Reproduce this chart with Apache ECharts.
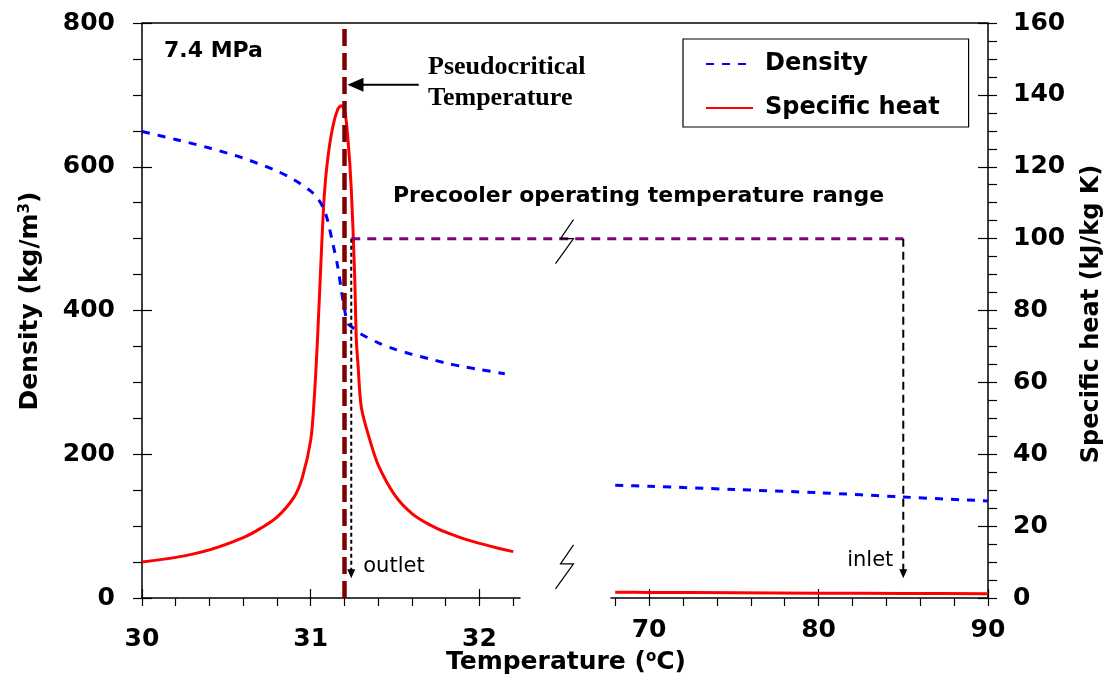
<!DOCTYPE html>
<html><head><meta charset="utf-8">
<script src="https://cdn.jsdelivr.net/npm/echarts@6/dist/echarts.min.js"></script>
<style>html,body{margin:0;padding:0;background:#fff}#c{width:1107px;height:683px}</style>
</head><body><div id="c"></div>
<script>
// ---------------- data ----------------
const densityLeftT = [30.00,30.20,30.40,30.60,30.80,30.90,31.00,31.05,31.08,31.10,31.13,31.16,31.18,31.20,31.22,31.25,31.27,31.30,31.40,31.50,31.60,31.70,31.80,31.90,32.00,32.15];
const densityLeftV = [649,638,626,612,594,582,566,553,540,525,494,461,430,402,382,376,372,367,355,346,339,333,327,322,318,312];
const cpLeftT = [30.00,30.20,30.40,30.60,30.70,30.80,30.90,30.95,31.00,31.02,31.04,31.06,31.08,31.10,31.13,31.16,31.18,31.20,31.22,31.24,31.26,31.27,31.28,31.30,31.35,31.40,31.50,31.60,31.70,31.80,31.90,32.00,32.10,32.20];
const cpLeftV = [10.0,11.3,13.4,16.8,19.3,22.5,28.0,33.5,44,55,72,93,112,122,131,136,137,136,128,114,90,72,65,53,44,37,28.5,23.5,20.5,18.3,16.6,15.2,14.0,12.9];
const densityRightT = [68,70,75,80,85,90];
const densityRightV = [157,155.5,151,146.5,140.5,135];
const cpRightT = [68,70,75,80,85,90];
const cpRightV = [1.6,1.55,1.45,1.35,1.25,1.2];

const leftXLabels = [30,31,32];
const leftXTicks = [30,30.2,30.4,30.6,30.8,31,31.2,31.4,31.6,31.8,32,32.2];
const rightXLabels = [70,80,90];
const rightXTicks = [68,70,72,74,76,78,80,82,84,86,88,90];
const densityLabels = [0,200,400,600,800];
const densityTicks = [0,50,100,150,200,250,300,350,400,450,500,550,600,650,700,750,800];
const cpLabels = [0,20,40,60,80,100,120,140,160];
const cpTicks = [0,5,10,15,20,25,30,35,40,45,50,55,60,65,70,75,80,85,90,95,100,105,110,115,120,125,130,135,140,145,150,155,160];

const pseudocriticalT = 31.2;
const pseudoArrowTailT = 31.64;
const pseudoArrowRho = 714;
const outletT = 31.24;
const inletT = 85;
const precoolerCp = 100;
const arrowTipCp = 5.5;
const breakLowCp = 9.5;
const leftRange = [30, 32.24];
const rightRange = [67.75, 90];

// ---------------- chart ----------------
const F = '"DejaVu Sans", sans-serif';
const chart = echarts.init(document.getElementById('c'), null, {renderer: 'canvas'});

function xMain(grid, range, ticks, labels, margin) {
  return {type:'value', gridIndex:grid, min:range[0], max:range[1], position:'bottom',
    axisLine:{show:true, onZero:false, lineStyle:{color:'#000', width:1.5}},
    axisTick:{show:true, customValues:ticks, inside:false, length:8, lineStyle:{color:'#000', width:1.2}},
    axisLabel:{show:true, customValues:labels, margin:margin, color:'#000', fontFamily:F, fontWeight:'bold', fontSize:25, formatter: v => String(v)},
    splitLine:{show:false}};
}
function xOver(grid, range, labels) {
  return {type:'value', gridIndex:grid, min:range[0], max:range[1], position:'bottom',
    axisLine:{show:false, onZero:false},
    axisTick:{show:true, customValues:labels, inside:true, length:9, lineStyle:{color:'#000', width:1.2}},
    axisLabel:{show:false}, splitLine:{show:false}};
}
function yMain(grid, pos, max, ticks, labels, margin) {
  return {type:'value', gridIndex:grid, min:0, max:max, position:pos,
    axisLine:{show:true, onZero:false, lineStyle:{color:'#000', width:1.5}},
    axisTick:{show:true, customValues:ticks, inside:false, length:9, lineStyle:{color:'#000', width:1.2}},
    axisLabel:{show:true, customValues:labels, margin:margin, color:'#000', fontFamily:F, fontWeight:'bold', fontSize:25, formatter: v => String(v)},
    splitLine:{show:false}};
}
function yOver(grid, pos, max, labels) {
  return {type:'value', gridIndex:grid, min:0, max:max, position:pos,
    axisLine:{show:false, onZero:false},
    axisTick:{show:true, customValues:labels, inside:true, length:10, lineStyle:{color:'#000', width:1.2}},
    axisLabel:{show:false}, splitLine:{show:false}};
}
function yHidden(grid, pos, max) {
  return {type:'value', gridIndex:grid, min:0, max:max, position:pos, show:false, splitLine:{show:false}};
}
const zip = (a, b) => a.map((v, i) => [v, b[i]]);

const option = {
  animation:false,
  backgroundColor:'#fff',
  grid:[
    {left:142, top:23, width:378, height:575},
    {left:611, top:23, width:377, height:575}
  ],
  xAxis:[
    xMain(0, leftRange, leftXTicks, leftXLabels, 29),
    xOver(0, leftRange, leftXLabels),
    xMain(1, rightRange, rightXTicks, rightXLabels, 20),
    xOver(1, rightRange, rightXLabels)
  ],
  yAxis:[
    yMain(0, 'left', 800, densityTicks, densityLabels, 27),
    yHidden(0, 'right', 160),
    yOver(0, 'left', 800, densityLabels),
    yHidden(1, 'left', 800),
    yMain(1, 'right', 160, cpTicks, cpLabels, 25),
    yOver(1, 'right', 160, cpLabels)
  ],
  legend:{
    left:683, top:39, orient:'vertical',
    padding:[13, 29, 7, 22], itemGap:20, itemWidth:47, itemHeight:20,
    borderColor:'#000', borderWidth:1.2, backgroundColor:'#fff',
    itemStyle:{opacity:0, borderWidth:0},
    textStyle:{color:'#000', fontFamily:F, fontWeight:'bold', fontSize:24, padding:[0,0,0,7]},
    data:['Density', 'Specific heat']
  },
  series:[
    {name:'Density', type:'line', xAxisIndex:0, yAxisIndex:0, data:zip(densityLeftT, densityLeftV),
     symbol:'none', smooth:0.3, lineStyle:{color:'#0000ff', width:3, type:[8,8]}, itemStyle:{color:'#0000ff'},
     markLine:{silent:true, symbol:'none', label:{show:false},
       lineStyle:{color:'#7f0000', width:4.5, type:[17,7]}, data:[{xAxis:pseudocriticalT}]}},
    {name:'Specific heat', type:'line', xAxisIndex:0, yAxisIndex:1, data:zip(cpLeftT, cpLeftV),
     symbol:'none', smooth:0.3, lineStyle:{color:'#ff0000', width:3}, itemStyle:{color:'#ff0000'}, z:1},
    {name:'Density', type:'line', xAxisIndex:2, yAxisIndex:3, data:zip(densityRightT, densityRightV),
     symbol:'none', smooth:0.3, lineStyle:{color:'#0000ff', width:3, type:[8,8]}, itemStyle:{color:'#0000ff'}},
    {name:'Specific heat', type:'line', xAxisIndex:2, yAxisIndex:4, data:zip(cpRightT, cpRightV),
     symbol:'none', smooth:0.3, lineStyle:{color:'#ff0000', width:3}, itemStyle:{color:'#ff0000'}}
  ]
};
chart.setOption(option);

// ---------- annotations placed through the axes' own scales ----------
const X0 = v => chart.convertToPixel({xAxisIndex:0}, v);
const X2 = v => chart.convertToPixel({xAxisIndex:2}, v);
const Yd = v => chart.convertToPixel({yAxisIndex:0}, v);
const Yc = v => chart.convertToPixel({yAxisIndex:4}, v);

const g = [];
const yTop = Yd(800);
g.push({type:'line', silent:true, shape:{x1:X0(leftRange[0]), y1:yTop, x2:X2(rightRange[1]), y2:yTop}, style:{stroke:'#000', lineWidth:1.5}});

const xo = X0(outletT), xi = X2(inletT), yr = Yc(precoolerCp), yt = Yc(arrowTipCp);
g.push({type:'line', silent:true, z:10, shape:{x1:xo, y1:yr, x2:xi, y2:yr}, style:{stroke:'#800080', lineWidth:3, lineDash:[9,7]}});
g.push({type:'line', silent:true, z:10, shape:{x1:xo, y1:yr, x2:xo, y2:yt-7}, style:{stroke:'#000', lineWidth:2, lineDash:[4,3]}});
g.push({type:'polygon', silent:true, z:10, shape:{points:[[xo-4, yt-9],[xo+4, yt-9],[xo, yt]]}, style:{fill:'#000'}});
g.push({type:'line', silent:true, z:10, shape:{x1:xi, y1:yr, x2:xi, y2:yt-7}, style:{stroke:'#000', lineWidth:2, lineDash:[8,5]}});
g.push({type:'polygon', silent:true, z:10, shape:{points:[[xi-4, yt-9],[xi+4, yt-9],[xi, yt]]}, style:{fill:'#000'}});

const ya = Yd(pseudoArrowRho), xTail = X0(pseudoArrowTailT), xTip = X0(pseudocriticalT) + 3;
g.push({type:'line', silent:true, z:10, shape:{x1:xTail, y1:ya, x2:xTip+12, y2:ya}, style:{stroke:'#000', lineWidth:2}});
g.push({type:'polygon', silent:true, z:10, shape:{points:[[xTip, ya],[xTip+16, ya-7],[xTip+16, ya+7]]}, style:{fill:'#000'}});

const xm = (X0(leftRange[1]) + X2(rightRange[0])) / 2;
[Yc(precoolerCp), Yc(breakLowCp)].forEach(yb => {
  g.push({type:'polyline', silent:true, z:11, shape:{points:[[xm+8, yb-19],[xm-5, yb],[xm+8, yb],[xm-10, yb+25]]}, style:{stroke:'#000', lineWidth:1.2, fill:null}});
});

function txt(text, x, y, opts) {
  const st = Object.assign({text:text, x:0, y:0, fill:'#000', fontFamily:F, fontWeight:'bold', fontSize:22,
    align:'left', textAlign:'left', verticalAlign:'middle', textVerticalAlign:'middle'}, opts || {});
  if (st.align) st.textAlign = st.align;
  return {type:'text', silent:true, z:12, x:x, y:y, rotation:st.rot || 0, style:st};
}
const supStyle = {fontSize:15, fontWeight:'bold', fontFamily:F, fill:'#000', verticalAlign:'top'};
g.push(txt('7.4 MPa', 164, 51, {fontSize:22}));
g.push(txt('Pseudocritical', 428, 67, {fontFamily:'"Liberation Serif", serif', fontSize:26}));
g.push(txt('Temperature', 428, 98, {fontFamily:'"Liberation Serif", serif', fontSize:26}));
g.push(txt('Precooler operating temperature range', 393, 196, {fontSize:22}));
g.push(txt('outlet', xo + 12, 567, {fontWeight:'normal', fontSize:21}));
g.push(txt('inlet', xi - 10, 561, {fontWeight:'normal', fontSize:21, align:'right'}));
g.push(txt('Temperature ({sup|o}C)', 566, 662, {fontSize:25, align:'center', rich:{sup:supStyle}}));
g.push(txt('Density (kg/m{sup|3})', 30, 301, {fontSize:25, align:'center', rot:Math.PI/2, rich:{sup:supStyle}}));
g.push(txt('Specific heat (kJ/kg K)', 1092, 314, {fontSize:24, align:'center', rot:Math.PI/2}));

chart.setOption({graphic:{elements:g}});
</script></body></html>
